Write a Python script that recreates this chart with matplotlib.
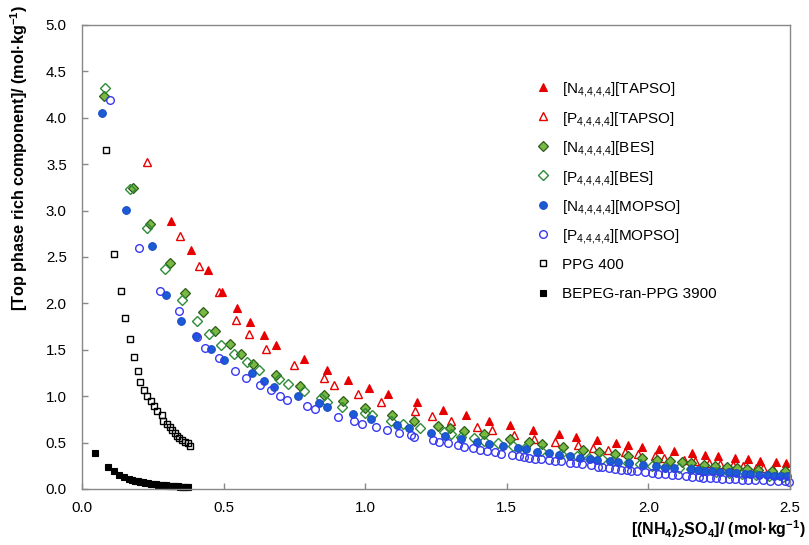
import matplotlib
matplotlib.use("Agg")
import matplotlib.pyplot as plt

plt.rcParams['font.family'] = ['Liberation Sans', 'DejaVu Sans']
plt.rcParams['mathtext.fontset'] = 'custom'
plt.rcParams['mathtext.rm'] = 'Liberation Sans'
plt.rcParams['mathtext.it'] = 'Liberation Sans:italic'
plt.rcParams['mathtext.bf'] = 'Liberation Sans:bold'

# ---------------- data ----------------
n_tapso_x = [0.313, 0.385, 0.444, 0.493, 0.547, 0.593, 0.644, 0.685, 0.783, 0.864, 0.941, 1.014,
             1.081, 1.183, 1.275, 1.357, 1.437, 1.510, 1.592, 1.683, 1.745, 1.817, 1.886, 1.928,
             1.979, 2.037, 2.090, 2.154, 2.199, 2.247, 2.305, 2.352, 2.393, 2.452, 2.486]
n_tapso_y = [2.888, 2.575, 2.360, 2.123, 1.950, 1.796, 1.663, 1.549, 1.401, 1.277, 1.175, 1.088,
             1.020, 0.934, 0.855, 0.794, 0.736, 0.690, 0.639, 0.593, 0.560, 0.528, 0.496, 0.474,
             0.449, 0.428, 0.406, 0.388, 0.370, 0.353, 0.334, 0.320, 0.305, 0.291, 0.280]

p_tapso_x = [0.228, 0.345, 0.414, 0.484, 0.545, 0.591, 0.651, 0.749, 0.856, 0.890, 0.975, 1.056,
             1.176, 1.235, 1.302, 1.395, 1.446, 1.524, 1.597, 1.669, 1.752, 1.806, 1.856, 1.919,
             1.962, 2.023, 2.055, 2.127, 2.165, 2.213, 2.253, 2.297, 2.334, 2.379, 2.405, 2.440, 2.485]
p_tapso_y = [3.527, 2.730, 2.403, 2.120, 1.821, 1.670, 1.511, 1.339, 1.196, 1.119, 1.024, 0.938,
             0.844, 0.783, 0.730, 0.671, 0.636, 0.582, 0.542, 0.506, 0.470, 0.442, 0.420, 0.395,
             0.377, 0.352, 0.337, 0.313, 0.302, 0.280, 0.269, 0.255, 0.248, 0.230, 0.223, 0.212, 0.202]

n_bes_x = [0.078, 0.181, 0.239, 0.311, 0.365, 0.427, 0.468, 0.522, 0.561, 0.604, 0.685, 0.770,
           0.856, 0.922, 1.000, 1.096, 1.174, 1.256, 1.300, 1.350, 1.418, 1.511, 1.579, 1.625,
           1.698, 1.768, 1.826, 1.882, 1.929, 1.979, 2.031, 2.075, 2.118, 2.152, 2.197, 2.236,
           2.276, 2.313, 2.349, 2.386, 2.436, 2.483]
n_bes_y = [4.232, 3.240, 2.856, 2.435, 2.115, 1.902, 1.703, 1.560, 1.450, 1.342, 1.228, 1.110,
           1.016, 0.943, 0.873, 0.800, 0.736, 0.684, 0.655, 0.628, 0.589, 0.544, 0.510, 0.483,
           0.450, 0.418, 0.395, 0.375, 0.356, 0.337, 0.316, 0.307, 0.294, 0.280, 0.264, 0.250,
           0.242, 0.228, 0.219, 0.210, 0.199, 0.191]

p_bes_x = [0.081, 0.169, 0.230, 0.294, 0.354, 0.406, 0.449, 0.490, 0.535, 0.584, 0.625, 0.695,
           0.727, 0.783, 0.843, 0.866, 0.918, 1.000, 1.025, 1.092, 1.134, 1.194, 1.278, 1.304,
           1.337, 1.385, 1.420, 1.468, 1.521, 1.564, 1.621, 1.691, 1.748, 1.791, 1.835, 1.875,
           1.927, 1.971, 2.012, 2.060, 2.107, 2.150, 2.191, 2.238, 2.283, 2.332, 2.379, 2.426, 2.474]
p_bes_y = [4.318, 3.233, 2.816, 2.371, 2.037, 1.814, 1.673, 1.557, 1.460, 1.369, 1.286, 1.180,
           1.128, 1.053, 0.984, 0.942, 0.880, 0.816, 0.794, 0.738, 0.703, 0.661, 0.617, 0.593,
           0.564, 0.546, 0.517, 0.492, 0.467, 0.445, 0.413, 0.377, 0.356, 0.337, 0.323, 0.302,
           0.277, 0.266, 0.248, 0.234, 0.223, 0.212, 0.197, 0.186, 0.176, 0.165, 0.154, 0.143, 0.133]

n_mopso_x = [0.072, 0.156, 0.246, 0.298, 0.350, 0.402, 0.456, 0.502, 0.600, 0.644, 0.678, 0.764,
             0.837, 0.864, 0.958, 1.021, 1.111, 1.155, 1.232, 1.281, 1.337, 1.394, 1.436, 1.486,
             1.538, 1.568, 1.607, 1.648, 1.685, 1.724, 1.758, 1.793, 1.818, 1.866, 1.894, 1.930,
             1.981, 2.026, 2.059, 2.092, 2.149, 2.174, 2.200, 2.225, 2.252, 2.285, 2.309, 2.340,
             2.358, 2.390, 2.418, 2.444, 2.466, 2.491]
n_mopso_y = [4.052, 3.006, 2.619, 2.094, 1.808, 1.654, 1.514, 1.385, 1.252, 1.169, 1.096, 1.005,
             0.929, 0.886, 0.811, 0.756, 0.692, 0.655, 0.607, 0.574, 0.539, 0.506, 0.485, 0.460,
             0.439, 0.428, 0.404, 0.391, 0.370, 0.352, 0.337, 0.323, 0.313, 0.302, 0.291, 0.277,
             0.259, 0.248, 0.230, 0.223, 0.212, 0.202, 0.197, 0.194, 0.186, 0.180, 0.172, 0.165,
             0.162, 0.151, 0.148, 0.143, 0.140, 0.137]

p_mopso_x = [0.098, 0.201, 0.274, 0.344, 0.407, 0.435, 0.484, 0.540, 0.580, 0.627, 0.667, 0.699,
             0.724, 0.796, 0.822, 0.905, 0.960, 0.989, 1.038, 1.077, 1.120, 1.161, 1.172, 1.240,
             1.259, 1.291, 1.328, 1.349, 1.379, 1.406, 1.430, 1.457, 1.479, 1.518, 1.543, 1.560,
             1.579, 1.600, 1.619, 1.649, 1.669, 1.690, 1.723, 1.744, 1.765, 1.797, 1.822, 1.835,
             1.860, 1.881, 1.905, 1.924, 1.938, 1.959, 1.987, 2.011, 2.034, 2.058, 2.084, 2.105,
             2.133, 2.154, 2.178, 2.192, 2.217, 2.238, 2.260, 2.284, 2.307, 2.329, 2.352, 2.378,
             2.405, 2.431, 2.457, 2.483, 2.496]
p_mopso_y = [4.195, 2.597, 2.131, 1.916, 1.633, 1.517, 1.415, 1.272, 1.199, 1.124, 1.064, 1.005,
             0.964, 0.898, 0.864, 0.776, 0.729, 0.703, 0.665, 0.636, 0.606, 0.577, 0.557, 0.525,
             0.510, 0.492, 0.471, 0.456, 0.442, 0.423, 0.413, 0.399, 0.380, 0.366, 0.356, 0.348,
             0.337, 0.327, 0.320, 0.309, 0.305, 0.298, 0.280, 0.277, 0.269, 0.255, 0.240, 0.234,
             0.223, 0.216, 0.208, 0.205, 0.197, 0.191, 0.180, 0.172, 0.165, 0.162, 0.151, 0.148,
             0.140, 0.133, 0.129, 0.122, 0.119, 0.115, 0.111, 0.108, 0.105, 0.100, 0.097, 0.097,
             0.094, 0.089, 0.086, 0.083, 0.079]

ppg400_x = [0.086, 0.112, 0.137, 0.153, 0.170, 0.185, 0.198, 0.206, 0.218, 0.230, 0.245, 0.254,
            0.266, 0.283, 0.286, 0.301, 0.310, 0.318, 0.327, 0.335, 0.343, 0.354, 0.364, 0.374, 0.381]
ppg400_y = [3.656, 2.532, 2.137, 1.843, 1.616, 1.426, 1.275, 1.156, 1.064, 1.002, 0.946, 0.892,
            0.843, 0.794, 0.733, 0.703, 0.668, 0.633, 0.603, 0.576, 0.553, 0.530, 0.509, 0.493, 0.460]

bepeg_x = [0.046, 0.091, 0.113, 0.131, 0.150, 0.165, 0.178, 0.188, 0.197, 0.206, 0.215, 0.224,
           0.233, 0.242, 0.251, 0.260, 0.269, 0.278, 0.287, 0.296, 0.305, 0.314, 0.322, 0.330,
           0.338, 0.345, 0.352, 0.358, 0.364, 0.369, 0.374]
bepeg_y = [0.385, 0.236, 0.190, 0.155, 0.128, 0.110, 0.098, 0.090, 0.083, 0.077, 0.072, 0.067,
           0.062, 0.058, 0.054, 0.050, 0.047, 0.044, 0.041, 0.038, 0.035, 0.033, 0.031, 0.029,
           0.027, 0.025, 0.023, 0.022, 0.020, 0.019, 0.018]

sub = r'$_{4{,}4{,}4{,}4}$'
labels = ['[N' + sub + '][TAPSO]', '[P' + sub + '][TAPSO]',
          '[N' + sub + '][BES]', '[P' + sub + '][BES]',
          '[N' + sub + '][MOPSO]', '[P' + sub + '][MOPSO]',
          'PPG 400', 'BEPEG-ran-PPG 3900']

x_ticks = [0.0, 0.5, 1.0, 1.5, 2.0, 2.5]
y_ticks = [0.0, 0.5, 1.0, 1.5, 2.0, 2.5, 3.0, 3.5, 4.0, 4.5, 5.0]

# ---------------- figure ----------------
W, H = 809, 545
fig = plt.figure(figsize=(W / 100, H / 100), dpi=100)
ax = fig.add_axes([82 / W, 1 - 489 / H, (790 - 82) / W, (489 - 25) / H])

red = '#E60000'
styles = [
    dict(marker='^', ms=5.5, mfc=red, mec=red, mew=0.8),
    dict(marker='^', ms=5.5, mfc='none', mec=red, mew=1.0),
    dict(marker='D', ms=4.6, mfc='#78B843', mec='#2C5E1A', mew=0.9),
    dict(marker='D', ms=4.6, mfc='none', mec='#2E8B37', mew=1.0),
    dict(marker='o', ms=5.5, mfc='#1C5BD6', mec='#1A4FC4', mew=0.8),
    dict(marker='o', ms=5.5, mfc='none', mec='#3838F2', mew=1.0),
    dict(marker='s', ms=5.0, mfc='none', mec='black', mew=1.0),
    dict(marker='s', ms=5.0, mfc='black', mec='black', mew=0.8),
]
series = [(n_tapso_x, n_tapso_y), (p_tapso_x, p_tapso_y),
          (n_bes_x, n_bes_y), (p_bes_x, p_bes_y),
          (n_mopso_x, n_mopso_y), (p_mopso_x, p_mopso_y),
          (ppg400_x, ppg400_y), (bepeg_x, bepeg_y)]

handles = []
for (xs, ys), st, lab in zip(series, styles, labels):
    h, = ax.plot(xs, ys, linestyle='none', label=lab, clip_on=False, **st)
    handles.append(h)

ax.set_xlim(0, 2.5)
ax.set_ylim(0, 5.0)
ax.set_xticks(x_ticks)
ax.set_yticks(y_ticks)
ax.set_xticklabels([f'{v:.1f}' for v in x_ticks])
ax.set_yticklabels([f'{v:.1f}' for v in y_ticks])

for s in ax.spines.values():
    s.set_color('#888888')
    s.set_linewidth(1.0)
ax.tick_params(axis='both', direction='in', length=4, width=1.0, color='#888888',
               labelsize=10.8, labelcolor='black')
ax.tick_params(axis='x', pad=9)
ax.tick_params(axis='y', pad=11)

fig.text(19 / W, 1 - 5 / H, r'[Top phase rich component]/ (mol·kg$^{\mathbf{-1}}$)',
         rotation=90, ha='center', va='top', fontsize=11.7, fontweight='bold')
fig.text(806 / W, 1 - 529 / H, r'[(NH$_\mathbf{4}$)$_\mathbf{2}$SO$_\mathbf{4}$]/ (mol·kg$^{\mathbf{-1}}$)',
         ha='right', va='center', fontsize=11.5, fontweight='bold')

# legend: one row per series, evenly spaced
fs = 11
leg_x_marker = 543
leg_x_text = 562
leg_y0 = 87
leg_dy = 29.4
for i, (h, lab) in enumerate(zip(handles, labels)):
    yy = 1 - (leg_y0 + i * leg_dy) / H
    st = styles[i]
    fig.lines.append(matplotlib.lines.Line2D([leg_x_marker / W], [yy], transform=fig.transFigure,
                                             linestyle='none', **st))
    fig.text(leg_x_text / W, yy, lab, ha='left', va='center_baseline', fontsize=fs)

fig.savefig('out.png', dpi=100)
